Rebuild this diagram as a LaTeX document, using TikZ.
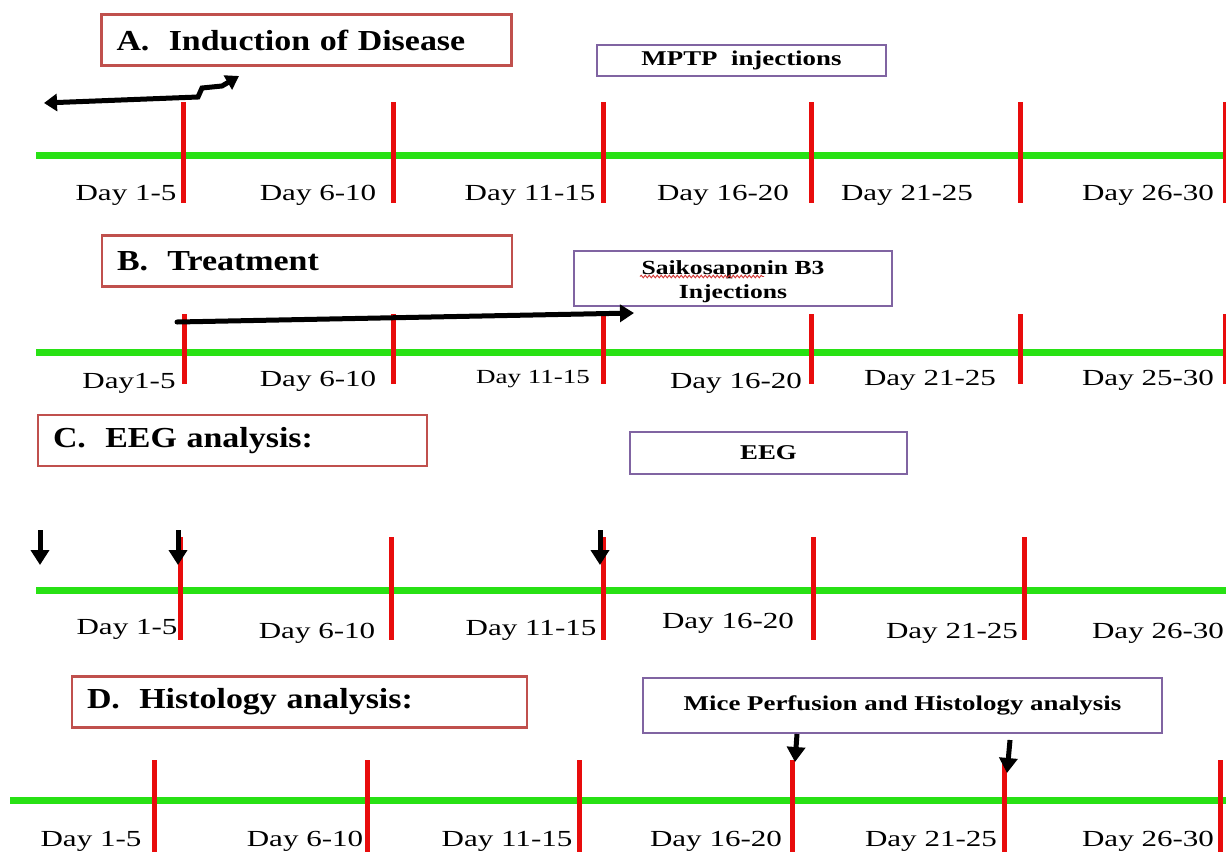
\documentclass[tikz,border=0pt]{standalone}
\usepackage{fontspec}
\setmainfont{Liberation Serif}
\newfontfamily\dayfont[FakeStretch=1.35]{Liberation Serif}
\newfontfamily\titlefont[FakeStretch=1.17]{Liberation Serif}
\newfontfamily\notefont[FakeStretch=1.28]{Liberation Serif}
\usetikzlibrary{arrows.meta,decorations.pathmorphing}
\definecolor{tl}{RGB}{40,225,20}
\definecolor{tk}{RGB}{232,12,12}
\definecolor{tb}{RGB}{192,80,77}
\definecolor{pb}{RGB}{128,100,162}
\begin{document}
\begin{tikzpicture}[x=1pt,y=-1pt,
  timeline/.style={draw=tl,line width=7pt},
  tickmark/.style={draw=tk,line width=5pt},
  daylbl/.style={font=\dayfont\fontsize{23}{25}\selectfont,inner sep=0pt,yshift=-3pt},
  titlebox/.style={draw=tb,line width=2.5pt,fill=white,align=left,inner xsep=15pt,
     font=\titlefont\bfseries\fontsize{29}{31}\selectfont,minimum height=51pt},
  notebox/.style={draw=pb,line width=2.5pt,fill=white,align=center,
     font=\notefont\bfseries\fontsize{21}{24}\selectfont},
  blackarrow/.style={draw=black,line width=5pt,-{Triangle[width=17pt,length=14pt]}},
  downarrow/.style={draw=black,line width=5pt,-{Triangle[width=18pt,length=15pt]}}
]
\useasboundingbox (0,0) rectangle (1226,852);

% ---------- A ----------
\coordinate (gA1) at (36,155); \coordinate (gA2) at (1226,155);
\draw[timeline] (gA1) -- (gA2);
\foreach \n/\x in {1/183,2/393,3/603,4/811,5/1020,6/1225}{
  \coordinate (tA\n a) at (\x,102); \coordinate (tA\n b) at (\x,203);
  \draw[tickmark] (tA\n a) -- (tA\n b);}
\foreach \n/\x/\y/\t in {1/126/192/Day 1-5,2/318/192/Day 6-10,3/530/192/Day 11-15,
  4/723/192/Day 16-20,5/907/192/Day 21-25,6/1148/192/Day 26-30}{
  \node[daylbl] (lA\n) at (\x,\y) {\t};}
\node[titlebox,text width=380pt] (titleA) at (306.5,40) {A.\ \ Induction of Disease};
\node[notebox,minimum width=289pt,minimum height=31pt] (mptp) at (741.5,60.5) {MPTP\ \ injections};
\coordinate (aA1) at (198,97); \coordinate (aA2) at (202,88); \coordinate (aA3) at (222,86);
\coordinate (aAl) at (44,103); \coordinate (aAr) at (239,76);
\draw[line width=5pt,{Triangle[width=17pt,length=13pt]}-{Triangle[width=16pt,length=13pt]}]
  (aAl) -- (aA1) -- (aA2) -- (aA3) -- (aAr);

% ---------- B ----------
\coordinate (gB1) at (36,352); \coordinate (gB2) at (1226,352);
\draw[timeline] (gB1) -- (gB2);
\foreach \n/\x in {1/184,2/393,3/603,4/811,5/1020,6/1225}{
  \coordinate (tB\n a) at (\x,314); \coordinate (tB\n b) at (\x,384);
  \draw[tickmark] (tB\n a) -- (tB\n b);}
\foreach \n/\x/\y/\t in {1/129/380/Day1-5,2/318/378/Day 6-10,
  4/736/380/Day 16-20,5/930/377/Day 21-25,6/1148/377/Day 25-30}{
  \node[daylbl] (lB\n) at (\x,\y) {\t};}
\node[daylbl,font=\dayfont\fontsize{20}{22}\selectfont] (lB3) at (533,376) {Day 11-15};
\node[titlebox,text width=380pt] (titleB) at (307,261) {B.\ \ Treatment};
\node[notebox,minimum width=318pt,minimum height=53pt,font=\notefont\bfseries\fontsize{20}{24}\selectfont] (saiko) at (733,278.5) {\rule{0pt}{20pt}Saikosaponin B3\\Injections};
\draw[tb!70!red,line width=0.9pt,decorate,decoration={snake,amplitude=1.3pt,segment length=4pt}]
  ([xshift=-93pt,yshift=2pt]saiko.center) -- ([xshift=31pt,yshift=2pt]saiko.center);
\coordinate (aBl) at (177,322); \coordinate (aBr) at (634,313);
\draw[blackarrow,line cap=round] (aBl) -- (aBr);

% ---------- C ----------
\coordinate (gC1) at (36,590); \coordinate (gC2) at (1226,590);
\draw[timeline] (gC1) -- (gC2);
\foreach \n/\x in {1/180,2/391,3/603,4/813,5/1024}{
  \coordinate (tC\n a) at (\x,537); \coordinate (tC\n b) at (\x,640);
  \draw[tickmark] (tC\n a) -- (tC\n b);}
\foreach \n/\x/\y/\t in {1/127/626/Day 1-5,2/317/630/Day 6-10,3/531/627/Day 11-15,
  4/728/620/Day 16-20,5/952/630/Day 21-25,6/1158/630/Day 26-30}{
  \node[daylbl] (lC\n) at (\x,\y) {\t};}
\node[titlebox,text width=359pt] (titleC) at (232.5,440.5) {C.\ \ EEG analysis:};
\node[notebox,minimum width=277pt,minimum height=42pt] (eeg) at (768.5,453) {EEG};
\foreach \n/\x in {1/40,2/178,3/600}{
  \coordinate (dC\n a) at (\x,530) ; \coordinate (dC\n b) at (\x,565);
  \draw[downarrow] (dC\n a) -- (dC\n b);}

% ---------- D ----------
\coordinate (gD1) at (10,800); \coordinate (gD2) at (1226,800);
\draw[timeline] (gD1) -- (gD2);
\foreach \n/\x in {1/154,2/367,3/579,4/792,5/1004,6/1220}{
  \coordinate (tD\n a) at (\x,760); \coordinate (tD\n b) at (\x,852);
  \draw[tickmark] (tD\n a) -- (tD\n b);}
\foreach \n/\x/\y/\t in {1/91/838/Day 1-5,2/305/838/Day 6-10,3/507/838/Day 11-15,
  4/716/838/Day 16-20,5/931/838/Day 21-25,6/1148/838/Day 26-30}{
  \node[daylbl] (lD\n) at (\x,\y) {\t};}
\node[titlebox,text width=425pt] (titleD) at (299.5,702) {D.\ \ Histology analysis:};
\node[notebox,minimum width=519pt,minimum height=55pt] (mice) at (902.5,705.5) {Mice Perfusion and Histology analysis};
\coordinate (dD1a) at (797,734); \coordinate (dD1b) at (795,762);
\coordinate (dD2a) at (1010,740); \coordinate (dD2b) at (1007,773);
\draw[downarrow] (dD1a) -- (dD1b);
\draw[downarrow] (dD2a) -- (dD2b);
\end{tikzpicture}
\end{document}
